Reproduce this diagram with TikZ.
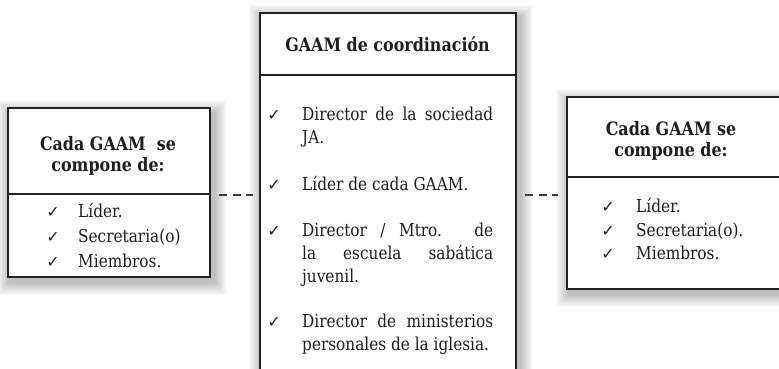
\documentclass[tikz,border=0pt]{standalone}
\usepackage{fontspec}
\newfontfamily\bodyfont{DejaVu Serif}[FakeStretch=0.86]
\newfontfamily\ckfont{DejaVu Sans}
\usetikzlibrary{calc}
\definecolor{boxc}{HTML}{222222}
\definecolor{txtc}{HTML}{1E1E1E}
\definecolor{dashc}{HTML}{3A3A3A}
\pgfdeclarelayer{bg}
\pgfsetlayers{bg,main}
\tikzset{
  boxshape/.style={draw=boxc, line width=1.8pt, fill=white, inner sep=0pt, anchor=north west},
  divider/.style={draw=boxc, line width=1.5pt},
  link/.style={draw=dashc, line width=2pt, dash pattern=on 8pt off 5.75pt},
  ttl/.style={font=\bodyfont\bfseries\fontsize{18.5}{21}\selectfont, text=txtc, inner sep=0pt, anchor=base},
  item/.style={font=\bodyfont\fontsize{17.8}{20}\selectfont, text=txtc, inner sep=0pt, anchor=base west},
  tick/.style={font=\ckfont\fontsize{16}{16}\selectfont, text=txtc, inner sep=0pt, anchor=base},
  softshadow/.style={fill=black, opacity=0.018},
}
\newcommand{\just}[1]{\makebox[191pt][s]{#1}}
\begin{document}
\begin{tikzpicture}[x=1pt,y=1pt]
\useasboundingbox (0,0) rectangle (779,369);
\clip (0,0) rectangle (779,369);

% boxes
\node[boxshape, minimum width=202pt, minimum height=169pt] (lbox) at (7,262) {};
\node[boxshape, minimum width=256pt, minimum height=380pt] (cbox) at (259,357) {};
\node[boxshape, minimum width=230pt, minimum height=192pt] (rbox) at (566,273) {};

% background and shadows
\begin{pgfonlayer}{bg}
\fill[white] (0,0) rectangle (779,369);
\foreach \b in {lbox,cbox,rbox}{
  \foreach \k in {1,...,13}{
    \fill[softshadow] ($(\b.south west)+(-\k+3,-\k-4)$) rectangle ($(\b.north east)+(\k+3,\k-6)$);
  }
}
\end{pgfonlayer}

% dividers
\coordinate (ld) at (0,175);
\coordinate (cd) at (0,294);
\coordinate (rd) at (0,192);
\draw[divider] (lbox.west |- ld) -- (lbox.east |- ld);
\draw[divider] (cbox.west |- cd) -- (cbox.east |- cd);
\draw[divider] (rbox.west |- rd) -- (rbox.east |- rd);

% connectors
\coordinate (lk) at (0,174);
\draw[link, shorten <=8pt, shorten >=6pt] (lbox.east |- lk) -- (cbox.west |- lk);
\draw[link, shorten <=8pt, shorten >=8pt] (cbox.east |- lk) -- (rbox.west |- lk);

% left box
\node[ttl] (lt1) at (108,218) {Cada GAAM\ \ se};
\node[ttl] (lt2) at (108,197) {compone de:};
\node[tick] (lc1) at (53,151) {✓};
\node[tick] (lc2) at (53,126) {✓};
\node[tick] (lc3) at (53,101) {✓};
\node[item] (li1) at (78,151) {Líder.};
\node[item] (li2) at (78,126) {Secretaria(o)};
\node[item] (li3) at (78,101) {Miembros.};

% center box
\node[ttl] (ct) at (387.5,317) {GAAM de coordinación};
\node[tick] (cc1) at (274,248) {✓};
\node[tick] (cc2) at (274,178) {✓};
\node[tick] (cc3) at (274,132) {✓};
\node[tick] (cc4) at (274,41) {✓};
\node[item] (ci1) at (302,248) {\just{Director de la sociedad}};
\node[item] (ci2) at (302,225) {JA.};
\node[item] (ci3) at (302,178) {Líder de cada GAAM.};
\node[item] (ci4) at (302,132) {\just{Director / Mtro. de}};
\node[item] (ci5) at (302,109) {\just{la escuela sabática}};
\node[item] (ci6) at (302,86) {juvenil.};
\node[item] (ci7) at (302,41) {\just{Director de ministerios}};
\node[item] (ci8) at (302,18) {personales de la iglesia.};

% right box
\node[ttl] (rt1) at (671,233) {Cada GAAM se};
\node[ttl] (rt2) at (671,212) {compone de:};
\node[tick] (rc1) at (608,156) {✓};
\node[tick] (rc2) at (608,132) {✓};
\node[tick] (rc3) at (608,109) {✓};
\node[item] (ri1) at (636,156) {Líder.};
\node[item] (ri2) at (636,132) {Secretaria(o).};
\node[item] (ri3) at (636,109) {Miembros.};
\end{tikzpicture}
\end{document}
